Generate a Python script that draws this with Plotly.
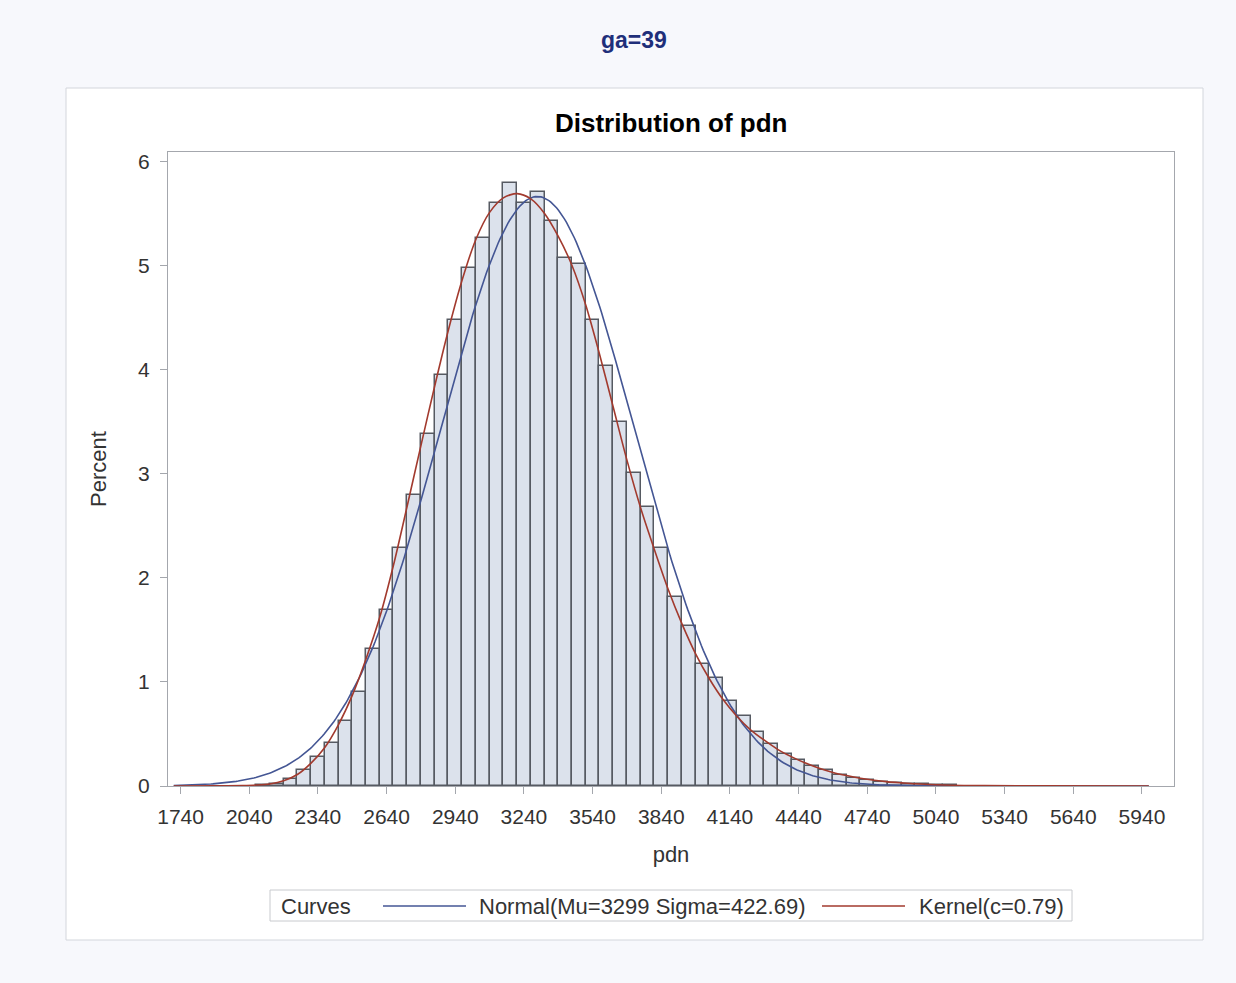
import numpy as np
import plotly.graph_objects as go

# Histogram of pdn (ga=39): bin midpoints and percent of observations per bin
BIN_WIDTH = 60
BIN_MIDPOINTS = [
    2100, 2160, 2220, 2280, 2340, 2400, 2460, 2520, 2580, 2640,
    2700, 2760, 2820, 2880, 2940, 3000, 3060, 3120, 3180, 3240,
    3300, 3360, 3420, 3480, 3540, 3600, 3660, 3720, 3780, 3840,
    3900, 3960, 4020, 4080, 4140, 4200, 4260, 4320, 4380, 4440,
    4500, 4560, 4620, 4680, 4740, 4800, 4860, 4920, 4980, 5040, 5100,
]
PERCENT = [
    0.005, 0.02, 0.07, 0.15, 0.28, 0.41, 0.62, 0.90, 1.32, 1.69,
    2.29, 2.80, 3.38, 3.95, 4.48, 4.98, 5.26, 5.60, 5.79, 5.60,
    5.71, 5.43, 5.07, 5.01, 4.48, 4.03, 3.50, 3.01, 2.68, 2.29,
    1.82, 1.54, 1.17, 1.04, 0.82, 0.67, 0.52, 0.40, 0.31, 0.25,
    0.19, 0.15, 0.11, 0.075, 0.06, 0.04, 0.03, 0.02, 0.015, 0.01, 0.005,
]

# Fitted normal curve parameters
MU = 3299
SIGMA = 422.69

# Kernel density estimate (c=0.79), in percent per bin
KDE_X = [
    1710, 1890, 2010, 2070, 2130, 2190, 2250, 2310, 2370, 2430,
    2490, 2550, 2610, 2670, 2730, 2790, 2850, 2910, 2970, 3030,
    3090, 3150, 3210, 3270, 3330, 3390, 3450, 3510, 3570, 3630,
    3690, 3750, 3810, 3870, 3930, 3990, 4050, 4110, 4170, 4230,
    4290, 4350, 4410, 4470, 4530, 4590, 4650, 4710, 4770, 4830,
    4890, 4950, 5070, 5250, 5500, 5970,
]
KDE_Y = [
    0.0, 0.001, 0.004, 0.009, 0.02, 0.05, 0.11, 0.22, 0.37, 0.59,
    0.87, 1.22, 1.62, 2.12, 2.69, 3.27, 3.84, 4.38, 4.86, 5.25,
    5.51, 5.65, 5.69, 5.64, 5.50, 5.28, 5.00, 4.62, 4.15, 3.64,
    3.13, 2.67, 2.27, 1.89, 1.56, 1.27, 1.03, 0.83, 0.67, 0.54,
    0.44, 0.35, 0.28, 0.22, 0.17, 0.13, 0.10, 0.075, 0.055, 0.04,
    0.03, 0.021, 0.01, 0.004, 0.001, 0.0,
]

X_TICKS = list(range(1740, 5941, 300))
Y_TICKS = [0, 1, 2, 3, 4, 5, 6]
X_RANGE = [1685, 6080]
Y_RANGE = [0, 6.09]

NORMAL_LABEL = f"Normal(Mu={MU} Sigma={SIGMA})"
KERNEL_LABEL = "Kernel(c=0.79)"

BLUE = "#445694"
RED = "#A23A2E"
FONT = "Arial, Liberation Sans, sans-serif"
TEXT = "#333333"

# Normal density scaled to percent per bin
nx = np.linspace(KDE_X[0], KDE_X[-1], 500)
ny = 100 * BIN_WIDTH * np.exp(-0.5 * ((nx - MU) / SIGMA) ** 2) / (SIGMA * np.sqrt(2 * np.pi))

fig = go.Figure()
fig.add_trace(go.Bar(
    x=BIN_MIDPOINTS, y=PERCENT, width=BIN_WIDTH,
    marker=dict(color="#DCE2EC", line=dict(color="#565A62", width=1.5)),
    showlegend=False, name="pdn",
))
fig.add_trace(go.Scatter(
    x=nx, y=ny, mode="lines", line=dict(color=BLUE, width=1.6),
    name=NORMAL_LABEL, showlegend=False,
))
fig.add_trace(go.Scatter(
    x=KDE_X, y=KDE_Y, mode="lines", line=dict(color=RED, width=1.6, shape="spline", smoothing=0.8),
    name=KERNEL_LABEL, showlegend=False,
))

W, H = 1236, 983
L, R, T, B = 168, 62, 152, 197
PW, PH = W - L - R, H - T - B


def px(x):
    return (x - L) / PW


def py(y):
    return (H - B - y) / PH


shapes = [
    # outer graph frame
    dict(type="rect", xref="paper", yref="paper", x0=px(66), x1=px(1203), y0=py(940), y1=py(88),
         line=dict(color="#D3D6DC", width=1), fillcolor="white", layer="below"),
    # legend box
    dict(type="rect", xref="paper", yref="paper", x0=px(270), x1=px(1072), y0=py(921), y1=py(890),
         line=dict(color="#C8CACE", width=1), fillcolor="white"),
    dict(type="line", xref="paper", yref="paper", x0=px(383), x1=px(466), y0=py(906), y1=py(906),
         line=dict(color=BLUE, width=1.6)),
    dict(type="line", xref="paper", yref="paper", x0=px(822), x1=px(905), y0=py(906), y1=py(906),
         line=dict(color=RED, width=1.6)),
]

annotations = [
    dict(text="<b>ga=39</b>", x=px(634), y=py(40), xref="paper", yref="paper", showarrow=False,
         font=dict(family=FONT, size=23, color="#1F2F7A"), xanchor="center", yanchor="middle"),
    dict(text="<b>Distribution of pdn</b>", x=0.5, y=py(123), xref="paper", yref="paper", showarrow=False,
         font=dict(family=FONT, size=26, color="black"), xanchor="center", yanchor="middle"),
    dict(text="Curves", x=px(279), y=py(906), xref="paper", yref="paper", showarrow=False,
         font=dict(family=FONT, size=22, color=TEXT), xanchor="left", yanchor="middle"),
    dict(text=NORMAL_LABEL, x=px(477), y=py(906), xref="paper", yref="paper", showarrow=False,
         font=dict(family=FONT, size=22, color=TEXT), xanchor="left", yanchor="middle"),
    dict(text=KERNEL_LABEL, x=px(917), y=py(906), xref="paper", yref="paper", showarrow=False,
         font=dict(family=FONT, size=22, color=TEXT), xanchor="left", yanchor="middle"),
]

fig.update_layout(
    width=W, height=H, autosize=False,
    margin=dict(l=L, r=R, t=T, b=B),
    paper_bgcolor="#F7F8FC", plot_bgcolor="white",
    bargap=0, showlegend=False,
    font=dict(family=FONT, size=21, color=TEXT),
    shapes=shapes, annotations=annotations,
)
fig.update_xaxes(
    range=X_RANGE, tickvals=X_TICKS, ticktext=[str(v) for v in X_TICKS],
    showline=True, mirror=True, linecolor="#A4A7AD", linewidth=1,
    ticks="outside", ticklen=7, tickcolor="#A4A7AD", ticklabelstandoff=5,
    showgrid=False, zeroline=False,
    title=dict(text="pdn", font=dict(family=FONT, size=22, color=TEXT), standoff=19),
    tickfont=dict(family=FONT, size=21, color=TEXT),
)
fig.update_yaxes(
    range=Y_RANGE, tickvals=Y_TICKS,
    showline=True, mirror=True, linecolor="#A4A7AD", linewidth=1,
    ticks="outside", ticklen=7, tickcolor="#A4A7AD", ticklabelstandoff=6,
    showgrid=False, zeroline=False,
    title=dict(text="Percent", font=dict(family=FONT, size=22, color=TEXT), standoff=25),
    tickfont=dict(family=FONT, size=21, color=TEXT),
)

fig.write_html("out.html")
